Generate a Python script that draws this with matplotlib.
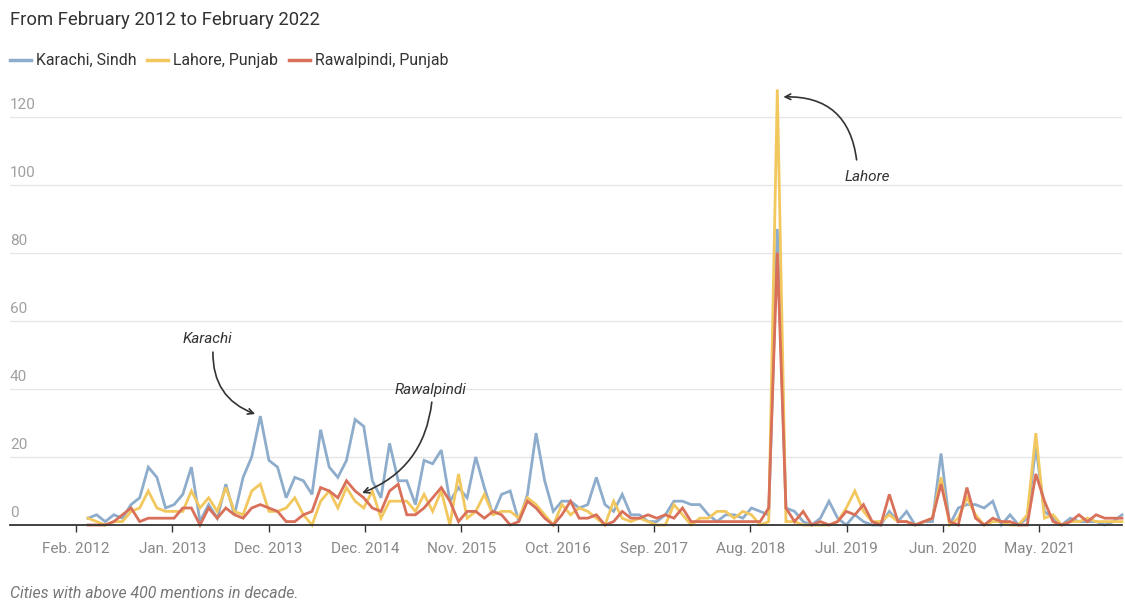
import matplotlib.pyplot as plt
from matplotlib.lines import Line2D
import numpy as np

plt.rcParams['font.family'] = ['Roboto', 'DejaVu Sans']

# monthly mentions, Feb 2012 .. Feb 2022
karachi = [2, 3, 1, 3, 2, 6, 8, 17, 14, 5, 6, 9, 17, 1, 6, 2, 12, 3, 14, 20, 32,
           19, 17, 8, 14, 13, 9, 28, 17, 14, 19, 31, 29, 13, 8, 24, 13, 13, 6, 19, 18, 22,
           7, 11, 8, 20, 11, 3, 9, 10, 1, 9, 27, 13, 4, 7, 7, 5, 6, 14,
           6, 4, 9, 3, 3, 1, 1, 3, 7, 7, 6, 6, 3, 1, 3, 3, 2, 5, 4, 3,
           87,
           5, 4, 1, 0, 2, 7, 2, 0, 3, 1, 0, 0, 4, 1, 4, 0, 1, 1,
           21, 0, 5, 6, 6, 5, 7, 0, 3, 0, 2, 23, 4, 2, 0, 2, 1, 1, 1, 0, 1, 3]
lahore = [2, 1, 0, 1, 1, 4, 5, 10, 5, 4, 4, 4, 10, 5, 8, 4, 11, 4, 3, 10, 12,
          4, 4, 5, 8, 3, 0, 7, 10, 5, 11, 7, 5, 10, 2, 7, 7, 7, 4, 9, 4, 10,
          0, 15, 2, 4, 9, 3, 4, 4, 2, 8, 6, 3, 0, 6, 3, 5, 4, 2,
          0, 7, 2, 1, 2, 1, 0, 0, 6, 3, 0, 2, 2, 4, 4, 2, 4, 3, 0, 1,
          128,
          1, 1, 0, 0, 0, 0, 1, 5, 10, 4, 1, 1, 3, 1, 1, 0, 1, 2,
          14, 0, 2, 8, 3, 0, 1, 1, 0, 0, 3, 27, 2, 3, 0, 1, 1, 2, 1, 1, 1, 1]
rawalpindi = [0, 0, 0, 1, 3, 5, 1, 2, 2, 2, 2, 5, 5, 0, 5, 2, 5, 3, 2, 5, 6,
              5, 4, 1, 1, 3, 4, 11, 10, 8, 13, 10, 8, 5, 4, 10, 12, 3, 3, 5, 8, 11,
              7, 1, 4, 4, 2, 4, 3, 0, 1, 7, 5, 2, 0, 3, 7, 2, 2, 3,
              0, 1, 4, 2, 2, 3, 2, 3, 2, 5, 1, 1, 1, 1, 1, 1, 1, 1, 1, 5,
              80,
              5, 1, 4, 0, 1, 0, 1, 4, 3, 6, 1, 0, 9, 1, 1, 0, 1, 2,
              12, 1, 0, 11, 2, 0, 2, 1, 1, 0, 0, 15, 7, 1, 0, 1, 3, 1, 3, 2, 2, 2]

series_names = ['Karachi, Sindh', 'Lahore, Punjab', 'Rawalpindi, Punjab']
colors = ['#8eaccb', '#f2c85e', '#d9705a']
tick_labels = ['Feb. 2012', 'Jan. 2013', 'Dec. 2013', 'Dec. 2014', 'Nov. 2015', 'Oct. 2016',
               'Sep. 2017', 'Aug. 2018', 'Jul. 2019', 'Jun. 2020', 'May. 2021']
y_ticks = [0, 20, 40, 60, 80, 100, 120]

W, H = 1125, 604
fig = plt.figure(figsize=(W / 100, H / 100), dpi=100)
ax = fig.add_axes([10 / W, (H - 525) / H, 1112 / W, 440 / H])

x = np.arange(len(karachi))
for vals, c in zip([karachi, lahore, rawalpindi], colors):
    ax.plot(x, vals, color=c, lw=2.0, clip_on=False, solid_joinstyle='miter')

ax.set_xlim(-9.05, 120)
ax.set_ylim(0, 129.3)

for s in ['top', 'right', 'left']:
    ax.spines[s].set_visible(False)
ax.spines['bottom'].set_color('#333333')
ax.spines['bottom'].set_linewidth(1.3)
ax.spines['bottom'].set_zorder(5)

ax.set_yticks(y_ticks)
ax.set_yticklabels([])
ax.tick_params(axis='y', length=0)
ax.grid(axis='y', color='#e6e6e6', lw=1)
ax.set_axisbelow(True)
for v in y_ticks:
    ax.text(0, v + 1.5, str(v), transform=ax.get_yaxis_transform(), ha='left', va='bottom',
            fontsize=11, color='#a0a0a0')

xt = -1.39 + 11.18 * np.arange(len(tick_labels))
ax.set_xticks(xt)
ax.set_xticklabels(tick_labels)
ax.tick_params(axis='x', length=5, width=1, color='#333333', labelcolor='#888888',
               labelsize=11, pad=7.5)

# annotations
arrow = dict(arrowstyle='->', color='#333333', lw=1.2, shrinkA=0, shrinkB=0)
ax.text(13.9, 54.6, 'Karachi', style='italic', fontsize=11, color='#333333', ha='center', va='center')
ax.annotate('', xy=(19.4, 32.6), xytext=(14.5, 50.8),
            arrowprops=dict(arrow, connectionstyle='arc3,rad=0.35'))
ax.text(39.7, 39.7, 'Rawalpindi', style='italic', fontsize=11, color='#333333', ha='center', va='center')
ax.annotate('', xy=(31.8, 9.4), xytext=(39.9, 36.1),
            arrowprops=dict(arrow, connectionstyle='arc3,rad=-0.3'))
ax.text(90.4, 102.2, 'Lahore', style='italic', fontsize=11, color='#333333', ha='center', va='center')
ax.annotate('', xy=(80.7, 125.8), xytext=(89.2, 107.3),
            arrowprops=dict(arrow, connectionstyle='arc3,rad=0.45'))

# title, legend, footer
fig.text(10 / W, 1 - 20 / H, 'From February 2012 to February 2022', fontsize=13.3,
         color='#333333', ha='left', va='center')
leg_x = [10, 147, 289]
for name, c, lx in zip(series_names, colors, leg_x):
    fig.add_artist(Line2D([lx / W, (lx + 21) / W], [1 - 60 / H, 1 - 60 / H], color=c, lw=2.5))
    fig.text((lx + 26) / W, 1 - 60 / H, name, fontsize=11.4, color='#333333', ha='left', va='center')
fig.text(10 / W, 1 - 593 / H, 'Cities with above 400 mentions in decade.', fontsize=11.4,
         style='italic', color='#777777', ha='left', va='center')

fig.savefig('out.png', dpi=100)
